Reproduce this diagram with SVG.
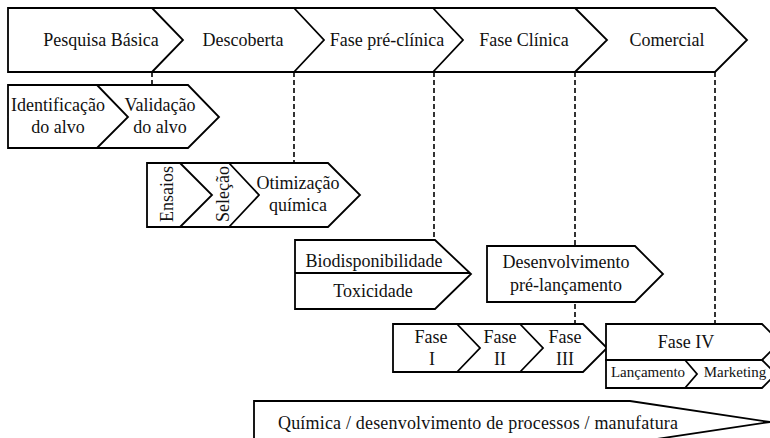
<svg xmlns="http://www.w3.org/2000/svg" width="770" height="438" viewBox="0 0 770 438">
  <style>
    .box { fill: #fff; stroke: #000; stroke-width: 1.8; stroke-linejoin: miter; }
    .div { fill: none; stroke: #000; stroke-width: 1.8; }
    .dash { fill: none; stroke: #000; stroke-width: 1.6; stroke-dasharray: 5 3; }
    text { font-family: "Liberation Serif", "Times New Roman", serif; font-size: 18px; fill: #111; text-anchor: middle; }
    .small { font-size: 15px; }
  </style>
  <rect width="770" height="438" fill="#fff"/>

  <!-- dashed links from the stage bar down to the sub-activities -->
  <g id="connectors">
    <line class="dash" x1="152" y1="72" x2="152" y2="85"/>
    <line class="dash" x1="294" y1="72" x2="294" y2="163"/>
    <line class="dash" x1="434" y1="72" x2="434" y2="240"/>
    <line class="dash" x1="575" y1="72" x2="575" y2="324"/>
    <line class="dash" x1="715" y1="72" x2="715" y2="324"/>
  </g>

  <!-- main stage bar -->
  <g id="stages">
    <polygon class="box" points="8,8 715,8 747,40 715,72 8,72"/>
    <polyline class="div" points="152,8 183,40 152,72"/>
    <polyline class="div" points="294,8 324,40 294,72"/>
    <polyline class="div" points="433,8 463,40 433,72"/>
    <polyline class="div" points="575,8 607,40 575,72"/>
    <text x="101" y="46">Pesquisa Básica</text>
    <text x="243" y="46">Descoberta</text>
    <text x="387" y="46">Fase pré-clínica</text>
    <text x="524" y="46">Fase Clínica</text>
    <text x="667" y="46">Comercial</text>
  </g>

  <g id="alvo">
    <polygon class="box" points="8,85 188,85 219,117 188,148 8,148"/>
    <polyline class="div" points="97,85 128,117 97,148"/>
    <text x="58" y="111">Identificação</text>
    <text x="58" y="133">do alvo</text>
    <text x="160" y="111">Validação</text>
    <text x="160" y="133">do alvo</text>
  </g>

  <g id="descoberta">
    <polygon class="box" points="147,163 328,163 360,195 328,227 147,227"/>
    <polyline class="div" points="180,163 212,195 180,227"/>
    <polyline class="div" points="229,163 259,195 229,227"/>
    <text transform="translate(173,194) rotate(-90)">Ensaios</text>
    <text transform="translate(229,194) rotate(-90)">Seleção</text>
    <text x="298" y="189">Otimização</text>
    <text x="298" y="211">química</text>
  </g>

  <g id="preclinica">
    <polygon class="box" points="295,240 435,240 471,274 435,309 295,309"/>
    <line class="div" x1="295" y1="273" x2="470" y2="273"/>
    <text x="374" y="267">Biodisponibilidade</text>
    <text x="373" y="297">Toxicidade</text>
  </g>

  <g id="prelancamento">
    <polygon class="box" points="487,246 635,246 663,274 635,302 487,302"/>
    <text x="566" y="268">Desenvolvimento</text>
    <text x="566" y="291">pré-lançamento</text>
  </g>

  <g id="fases">
    <polygon class="box" points="393,324 583,324 607,348 583,372 393,372"/>
    <polyline class="div" points="457,324 480,348 457,372"/>
    <polyline class="div" points="520,324 543,348 520,372"/>
    <text x="431" y="343">Fase</text>
    <text x="432" y="365">I</text>
    <text x="500" y="343">Fase</text>
    <text x="500" y="365">II</text>
    <text x="565" y="343">Fase</text>
    <text x="565" y="365">III</text>
  </g>

  <g id="fase4">
    <polygon class="box" points="606,324 762,324 780,342 762,360 606,360"/>
    <polygon class="box" points="606,360 762,360 776,374 762,388 606,388"/>
    <polyline class="div" points="685,360 697,374 685,388"/>
    <text x="686" y="348">Fase IV</text>
    <text class="small" x="648" y="377">Lançamento</text>
    <text class="small" x="735" y="377">Marketing</text>
  </g>

  <g id="manufatura">
    <polygon class="box" points="254,401 630,401 770,422 630,443 254,443"/>
    <text x="478" y="429" textLength="400" lengthAdjust="spacing">Química / desenvolvimento de processos / manufatura</text>
  </g>
</svg>
